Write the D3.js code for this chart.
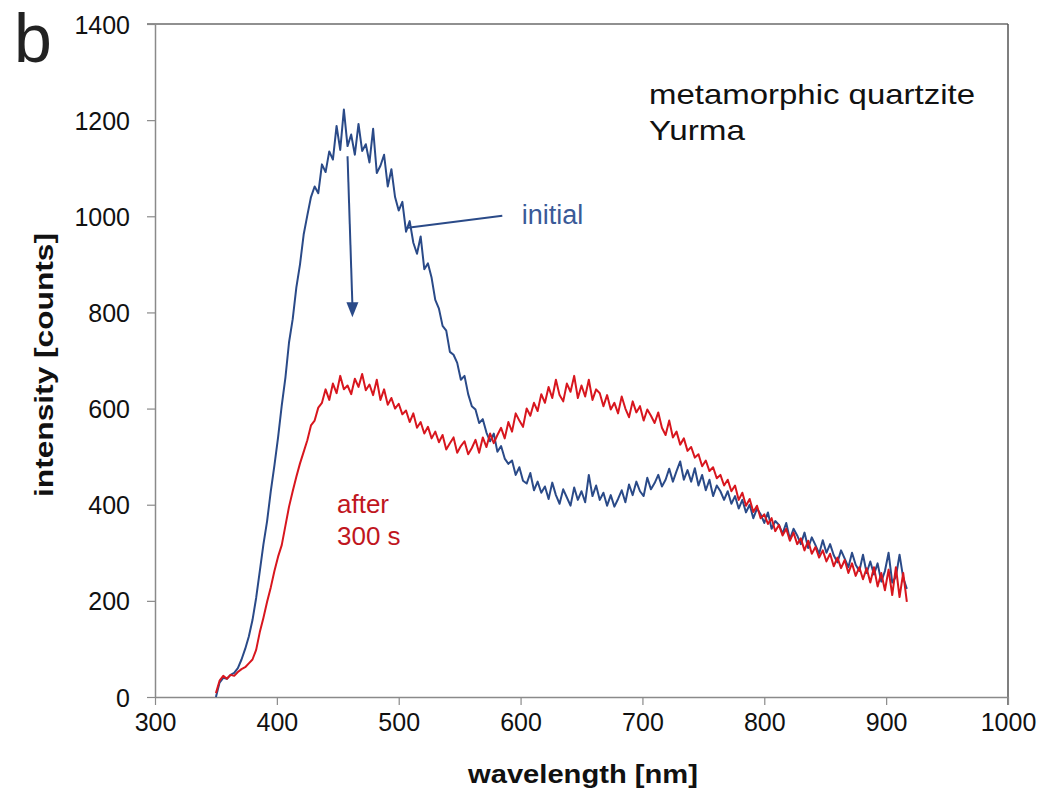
<!DOCTYPE html>
<html>
<head>
<meta charset="utf-8">
<script src="https://cdn.jsdelivr.net/npm/d3@7/dist/d3.min.js"></script>
<style>
  html, body { margin: 0; padding: 0; background: #fff; }
  text { font-family: "Liberation Sans", Arial, sans-serif; }
</style>
</head>
<body>
<svg id="chart" width="1045" height="792"></svg>
<script>
// sampling grid of the spectra (nm)
const wavelengths = d3.range(350, 918, 3);

// intensity [counts]
const initialCounts = [
  0, 30, 40, 38, 46, 50, 60, 78, 100, 126,
  160, 206, 262, 318, 366, 428, 482, 540, 606, 664,
  738, 786, 852, 900, 962, 1002, 1040, 1062, 1048, 1108,
  1092, 1135, 1118, 1188, 1138, 1222, 1146, 1170, 1128, 1192,
  1136, 1150, 1112, 1182, 1090, 1105, 1128, 1062, 1098, 1040,
  1012, 1030, 968, 990, 945, 922, 958, 890, 902, 872,
  826, 808, 772, 762, 718, 712, 695, 660, 668, 630,
  605, 598, 570, 578, 550, 532, 548, 510, 522, 496,
  485, 492, 462, 478, 450, 444, 466, 430, 448, 425,
  438, 412, 446, 420, 402, 432, 415, 398, 436, 410,
  428, 405, 462, 418, 440, 410, 425, 398, 420, 396,
  412, 430, 405, 442, 420, 448, 428, 418, 456, 432,
  445, 462, 438, 452, 475, 448, 470, 490, 452, 472,
  448, 476, 440, 462, 430, 452, 418, 440, 428, 410,
  428, 402, 418, 392, 410, 384, 400, 372, 392, 380,
  362, 384, 350, 366, 358, 340, 362, 328, 350, 336,
  318, 342, 310, 332, 316, 298, 326, 300, 318, 295,
  280, 305, 288, 270, 300, 275, 262, 296, 258, 282,
  255, 278, 240, 262, 300, 238, 250, 296, 248, 225
];

const after300Counts = [
  8, 34, 44, 38, 46, 44, 52, 58, 62, 70,
  78, 98, 135, 165, 198, 228, 262, 292, 316, 356,
  396, 428, 458, 486, 510, 534, 565, 575, 602, 612,
  640, 618, 652, 632, 668, 640, 648, 630, 662, 645,
  672, 638, 650, 628, 660, 618, 640, 608, 622, 600,
  610, 588, 596, 572, 590, 560, 572, 548, 562, 538,
  552, 530, 545, 515, 528, 540, 508, 522, 532, 505,
  518, 535, 508, 540, 520, 548, 528, 545, 560, 538,
  572, 552, 590, 575, 562, 600, 585, 612, 595, 630,
  612, 645, 622, 660, 628, 615, 652, 635, 668, 622,
  648, 625, 660, 618, 640, 632, 605, 628, 598, 612,
  590, 625, 600, 582, 615, 592, 605, 575, 598, 585,
  570, 592, 560, 545, 575, 540, 552, 525, 538, 512,
  520, 498, 505, 480, 492, 470, 478, 455, 462, 440,
  452, 428, 440, 410, 425, 398, 412, 385, 398, 372,
  380, 360, 372, 345, 358, 336, 350, 325, 342, 318,
  330, 305, 325, 298, 312, 290, 305, 282, 298, 272,
  290, 268, 285, 258, 278, 252, 270, 245, 268, 238,
  270, 230, 258, 222, 265, 212, 270, 208, 258, 198
];

const xTicks = [300, 400, 500, 600, 700, 800, 900, 1000];
const yTicks = [0, 200, 400, 600, 800, 1000, 1200, 1400];

const svg = d3.select('#chart');
const plotLeft = 155, plotRight = 1008, plotTop = 24, plotBottom = 697;

const x = d3.scaleLinear().domain([300, 1000]).range([plotLeft, plotRight]);
const y = d3.scaleLinear().domain([0, 1400]).range([plotBottom, plotTop]);

const blue = '#2a4a88', red = '#d8161e';

// frame (top + right)
svg.append('line').attr('x1', plotLeft - 8).attr('x2', plotRight).attr('y1', plotTop).attr('y2', plotTop)
  .attr('stroke', '#6b6b6b').attr('stroke-width', 1.5);
svg.append('line').attr('x1', plotRight).attr('x2', plotRight).attr('y1', plotTop).attr('y2', plotBottom + 8)
  .attr('stroke', '#555').attr('stroke-width', 1.5);

// axes
const fmt = d3.format('d');
const xAxis = svg.append('g').attr('transform', `translate(0,${plotBottom})`)
  .call(d3.axisBottom(x).tickValues(xTicks).tickFormat(fmt).tickSize(8).tickPadding(8).tickSizeOuter(0));
const yAxis = svg.append('g').attr('transform', `translate(${plotLeft},0)`)
  .call(d3.axisLeft(y).tickValues(yTicks).tickFormat(fmt).tickSize(8).tickPadding(17).tickSizeOuter(0));

[xAxis, yAxis].forEach(g => {
  g.select('.domain').attr('stroke', '#8a8a8a').attr('stroke-width', 1.5);
  g.selectAll('.tick line').attr('stroke', '#8a8a8a').attr('stroke-width', 1.2);
  g.selectAll('.tick text').attr('fill', '#111').style('font-size', '25px')
    .style('font-family', '"Liberation Sans", Arial, sans-serif');
});
yAxis.selectAll('.tick text').attr('dy', '0.36em');

// spectra
const line = d3.line().x((d, i) => x(wavelengths[i])).y(d => y(d));

svg.append('path').datum(initialCounts)
  .attr('d', line).attr('fill', 'none')
  .attr('stroke', blue).attr('stroke-width', 2).attr('stroke-linejoin', 'round');

svg.append('path').datum(after300Counts)
  .attr('d', line).attr('fill', 'none')
  .attr('stroke', red).attr('stroke-width', 2).attr('stroke-linejoin', 'round');

// arrow initial -> after
const ax1 = x(458), ay1 = y(1125), ax2 = x(462), ay2 = y(790);
svg.append('line').attr('x1', ax1).attr('y1', ay1).attr('x2', ax2).attr('y2', ay2 - 12)
  .attr('stroke', blue).attr('stroke-width', 2);
svg.append('path')
  .attr('d', `M${ax2 - 6},${ay2 - 15} L${ax2 + 6},${ay2 - 15} L${ax2},${ay2} Z`)
  .attr('fill', blue);

// leader line to "initial"
svg.append('line')
  .attr('x1', x(507.5)).attr('y1', y(976))
  .attr('x2', x(585)).attr('y2', y(1001))
  .attr('stroke', blue).attr('stroke-width', 2);

svg.append('text').attr('x', x(601)).attr('y', y(984))
  .attr('fill', '#3a5a98').style('font-size', '27px').text('initial');

svg.append('text').attr('x', 337).attr('y', 513)
  .attr('fill', '#c0161e').style('font-size', '26px').text('after');
svg.append('text').attr('x', 337).attr('y', 545)
  .attr('fill', '#c0161e').style('font-size', '26px').text('300 s');

// sample label
svg.append('text').attr('x', 649).attr('y', 104).attr('fill', '#111')
  .style('font-size', '28px').attr('textLength', 326).attr('lengthAdjust', 'spacingAndGlyphs')
  .text('metamorphic quartzite');
svg.append('text').attr('x', 649).attr('y', 140).attr('fill', '#111')
  .style('font-size', '28px').attr('textLength', 96).attr('lengthAdjust', 'spacingAndGlyphs')
  .text('Yurma');

// axis titles
svg.append('text').attr('x', 468).attr('y', 783).attr('fill', '#111')
  .style('font-size', '26px').style('font-weight', 'bold')
  .attr('textLength', 230).attr('lengthAdjust', 'spacingAndGlyphs')
  .text('wavelength [nm]');
svg.append('text').attr('transform', 'translate(53,365) rotate(-90)')
  .attr('text-anchor', 'middle').attr('fill', '#111')
  .style('font-size', '26px').style('font-weight', 'bold')
  .attr('textLength', 264).attr('lengthAdjust', 'spacingAndGlyphs')
  .text('intensity [counts]');

// panel letter
svg.append('text').attr('x', 14).attr('y', 62).attr('fill', '#222')
  .style('font-size', '68px').text('b');
</script>
</body>
</html>
